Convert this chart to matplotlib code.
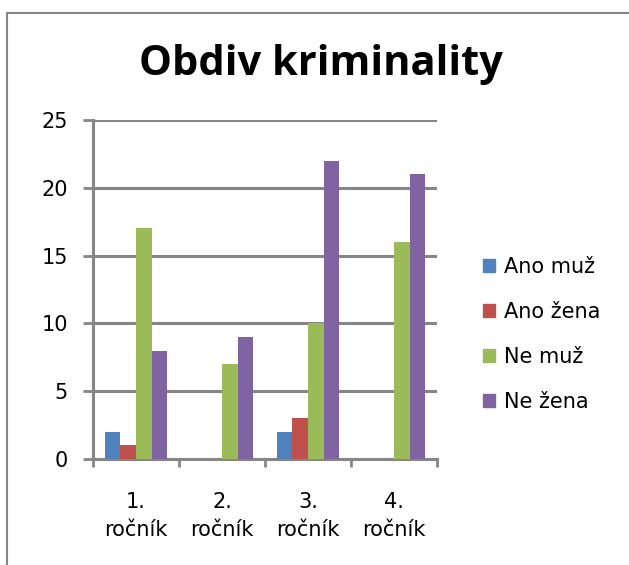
import matplotlib
matplotlib.use("Agg")
import matplotlib.pyplot as plt
from matplotlib.lines import Line2D
from matplotlib.patches import Patch
import numpy as np

plt.rcParams['font.family'] = ['DejaVu Sans']

categories = ["1.\nročník", "2.\nročník", "3.\nročník", "4.\nročník"]
series_names = ["Ano muž", "Ano žena", "Ne muž", "Ne žena"]
ano_muz = [2, 0, 2, 0]
ano_zena = [1, 0, 3, 0]
ne_muz = [17, 7, 10, 16]
ne_zena = [8, 9, 22, 21]
colors = ["#4F81BD", "#C0504D", "#9BBB59", "#8064A2"]
grid_col = "#868686"

fig = plt.figure(figsize=(6.29, 5.65), dpi=100)
ax = fig.add_axes([0.148, 0.1876, 0.547, 0.6])

x = np.arange(len(categories))
w = 1 / 5.5
all_series = [ano_muz, ano_zena, ne_muz, ne_zena]
for i, vals in enumerate(all_series):
    ax.bar(x + (i - 1.5) * w, vals, w, color=colors[i], zorder=3, linewidth=0)

ax.set_xlim(-0.5, 3.5)
ax.set_ylim(0, 25)
ax.set_yticks([0, 5, 10, 15, 20, 25])
ax.yaxis.grid(True, color=grid_col, linewidth=2.2, zorder=1)
ax.set_xticks(x)
ax.set_xticklabels(categories, fontsize=15, linespacing=1.5)
ax.set_xticks(np.arange(-0.5, 4, 1), minor=True)
ax.tick_params(axis='x', which='major', length=0, pad=24)
ax.tick_params(axis='x', which='minor', length=6, width=2, color=grid_col)
ax.tick_params(axis='y', length=7, width=2, color=grid_col, labelsize=15, pad=11)

for s in ['top', 'right']:
    ax.spines[s].set_visible(False)
for s in ['left', 'bottom']:
    ax.spines[s].set_color(grid_col)
    ax.spines[s].set_linewidth(2.2)

fig.text(0.511, 0.885, "Obdiv kriminality", ha='center', va='center',
         fontsize=30, fontweight='bold', family='Open Sans')

handles = [Patch(color=c) for c in colors]
fig.legend(handles, series_names, loc='center left', bbox_to_anchor=(0.738, 0.408),
           frameon=False, fontsize=15, handlelength=0.6, handleheight=0.6,
           handletextpad=0.4, labelspacing=1.2)

# chart border (only left and top visible)
fig.add_artist(Line2D([0.011, 0.011, 1.0], [0.0, 0.977, 0.977],
                      transform=fig.transFigure, color=grid_col, linewidth=1.5))

fig.savefig("out.png", dpi=100)
